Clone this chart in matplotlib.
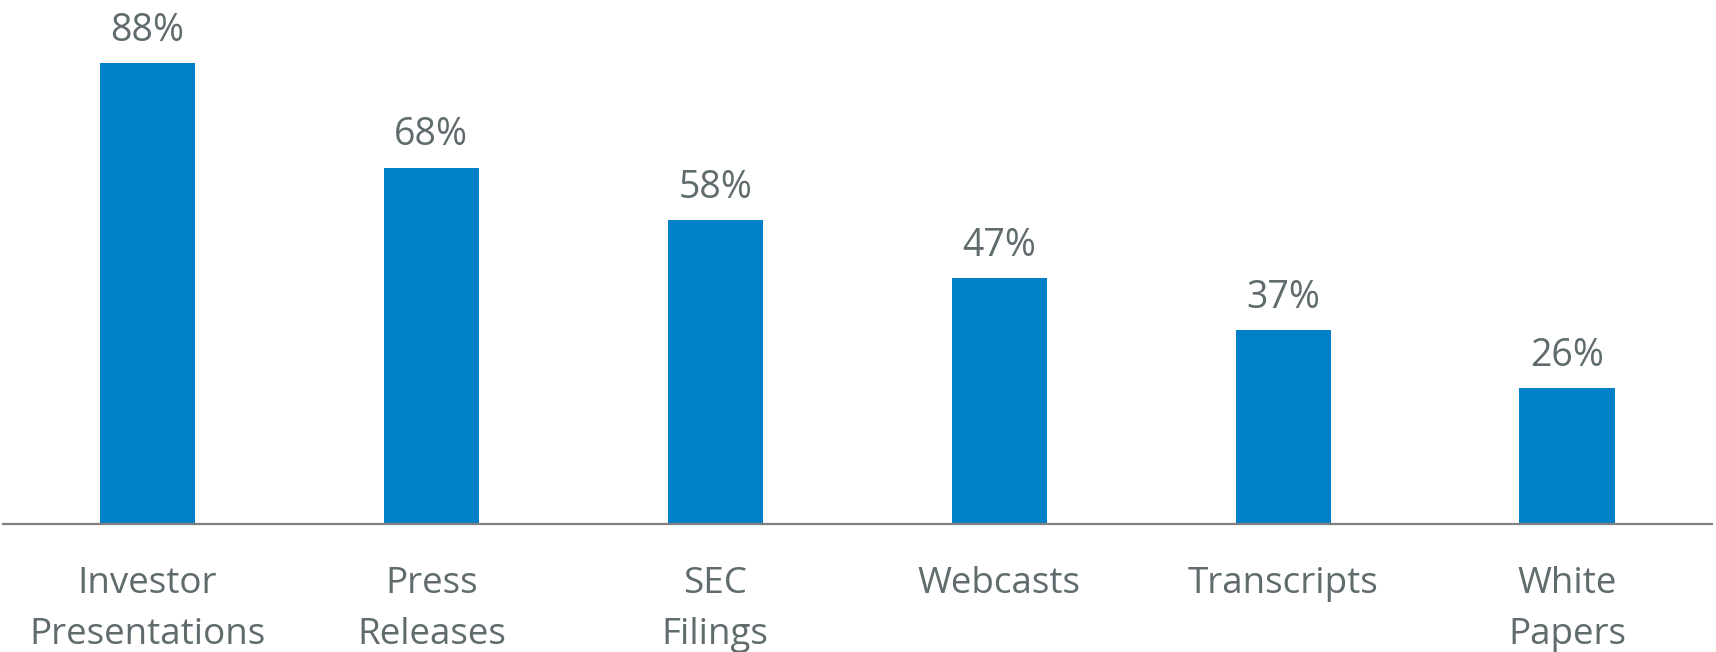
import matplotlib.pyplot as plt

categories = ["Investor\nPresentations", "Press\nReleases", "SEC\nFilings",
              "Webcasts", "Transcripts", "White\nPapers"]
values = [88, 68, 58, 47, 37, 26]

BAR_COLOR = "#0080C9"
TEXT_COLOR = "#5F6B6D"

plt.rcParams["font.family"] = ["Open Sans", "DejaVu Sans"]

fig = plt.figure(figsize=(17.16, 6.52), dpi=100)
ax = fig.add_axes([5.5 / 1716, 128 / 652, (1709 - 5.5) / 1716, 524 / 652])

x = range(len(values))
bars = ax.bar(x, values, width=0.335, color=BAR_COLOR)

for bar, v in zip(bars, values):
    ax.annotate(f"{v}%", (bar.get_x() + bar.get_width() / 2, v),
                xytext=(0, 9.5), textcoords="offset points",
                ha="center", va="bottom", fontsize=27, color=TEXT_COLOR)

ax.set_xlim(-0.5, len(values) - 0.5)
ax.set_ylim(0, 100)
ax.set_xticks(list(x))
ax.set_xticklabels(categories, fontsize=26.5, color=TEXT_COLOR, linespacing=1.56)
ax.tick_params(axis="x", length=0, pad=30)
ax.set_yticks([])

for side in ["top", "right", "left"]:
    ax.spines[side].set_visible(False)
ax.spines["bottom"].set_color("#808080")
ax.spines["bottom"].set_linewidth(1.6)
ax.spines["bottom"].set_bounds(-0.51, len(values) - 0.49)

fig.savefig("out.png", dpi=100)
